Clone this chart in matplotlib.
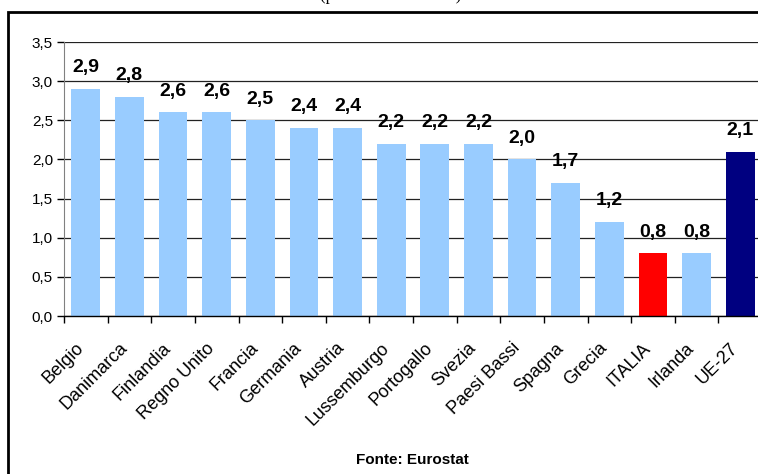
import matplotlib
matplotlib.use("Agg")
import matplotlib.pyplot as plt
from matplotlib.patches import Rectangle

# data
paesi = ["Belgio", "Danimarca", "Finlandia", "Regno Unito", "Francia", "Germania",
         "Austria", "Lussemburgo", "Portogallo", "Svezia", "Paesi Bassi", "Spagna",
         "Grecia", "ITALIA", "Irlanda", "UE-27"]
valori = [2.9, 2.8, 2.6, 2.6, 2.5, 2.4, 2.4, 2.2, 2.2, 2.2, 2.0, 1.7, 1.2, 0.8, 0.8, 2.1]
y_ticks = [0.0, 0.5, 1.0, 1.5, 2.0, 2.5, 3.0, 3.5]

colori = []
for p in paesi:
    if p == "ITALIA":
        colori.append("#FF0000")
    elif p == "UE-27":
        colori.append("#000080")
    else:
        colori.append("#99CCFF")

plt.rcParams["font.family"] = ["Liberation Sans", "DejaVu Sans"]

W, H = 758, 474
fig = plt.figure(figsize=(W / 100, H / 100), dpi=100)
ax = fig.add_axes([64 / W, (H - 316) / H, (762 - 64) / W, (316 - 42) / H])

x = list(range(len(paesi)))
ax.bar(x, valori, width=0.66, color=colori, zorder=2)

for xi, v in zip(x, valori):
    ax.annotate(f"{v:.1f}".replace(".", ","), (xi, v), xytext=(0, 12),
                textcoords="offset points", ha="center", va="baseline",
                fontsize=14, fontweight="bold", zorder=3)

ax.set_xlim(-0.5, len(paesi) - 0.5)
ax.set_ylim(0, 3.5)
ax.set_yticks(y_ticks)
ax.set_yticklabels([f"{t:.1f}".replace(".", ",") for t in y_ticks], fontsize=11)
ax.yaxis.grid(True, color="#222222", linewidth=0.9, zorder=1)
ax.set_axisbelow(True)

# boundary ticks on the category axis, labels at bar centres
ax.set_xticks([i - 0.5 for i in range(len(paesi) + 1)])
ax.set_xticklabels([])
ax.set_xticks([i - 0.25 for i in x], minor=True)
ax.set_xticklabels(paesi, minor=True, rotation=45, ha="right", va="top",
                   rotation_mode="anchor", fontsize=13)
ax.tick_params(axis="x", which="minor", length=0, pad=17)
ax.tick_params(axis="x", which="major", length=5, width=1, direction="out")
ax.tick_params(axis="y", length=5, width=1, direction="out", pad=3)

for s in ["top", "right"]:
    ax.spines[s].set_visible(False)
ax.spines["left"].set_color("#808080")
ax.spines["bottom"].set_color("black")
ax.spines["bottom"].set_linewidth(1)

# outer frame and texts
fig.patches.append(Rectangle((8 / W, -0.05), 1.0, 1 - 12 / H + 0.05,
                             transform=fig.transFigure, fill=False,
                             edgecolor="black", linewidth=2))
fig.text(391 / W, 1.0, "(percentuale del PIL)", ha="center", va="baseline",
         fontsize=12, family="Liberation Serif")
fig.text(412 / W, 1 - 464 / H, "Fonte: Eurostat", ha="center", va="baseline",
         fontsize=11, fontweight="bold")

fig.savefig("out.png", dpi=100)
